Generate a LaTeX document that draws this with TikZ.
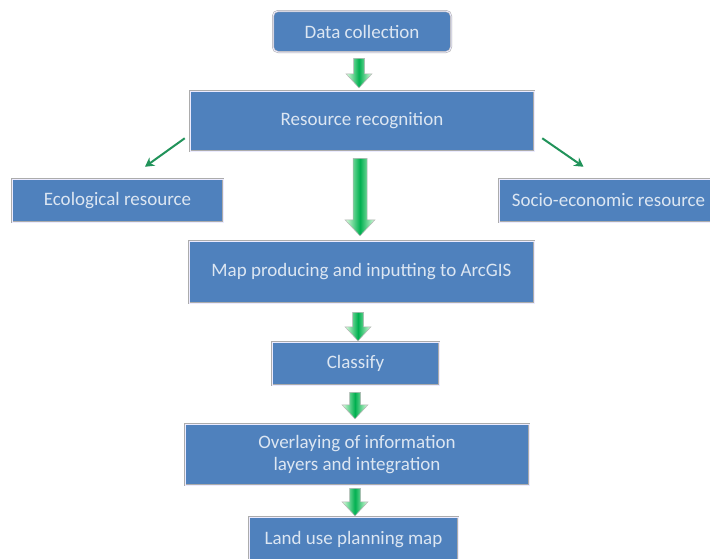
\documentclass[tikz,border=0pt]{standalone}
\usepackage{fontspec}
\setmainfont{Carlito}
\usetikzlibrary{arrows.meta,calc}
\definecolor{boxblue}{HTML}{4F81BD}
\definecolor{boxtext}{HTML}{DCE6F2}
\definecolor{arrgreen}{HTML}{00B050}
\definecolor{diaggreen}{HTML}{21935A}
\tikzset{
  box/.style={draw=gray!65, double=blue!8, double distance=1pt, line width=0.5pt,
    fill=boxblue, text=boxtext, font=\fontsize{19}{22}\selectfont,
    inner sep=0pt, align=center},
  blockarr/.style={draw=gray!60, line width=0.5pt, left color=green!12, right color=green!12, middle color=arrgreen},
  diagarr/.style={draw=diaggreen, line width=2pt, -{Stealth[length=9pt,width=10pt]}}
}
% #1 from node, #2 to node, #3 x (pt), #4 shaft w, #5 head w, #6 head len, #7 start gap, #8 end gap
\newcommand\barrow[8]{%
  \path[blockarr] let \p1=(#1.south), \p2=(#2.north) in
    (#3pt-#4pt/2, \y1-#7pt) -- (#3pt+#4pt/2, \y1-#7pt) -- (#3pt+#4pt/2, \y2+#8pt+#6pt)
    -- (#3pt+#5pt/2, \y2+#8pt+#6pt) -- (#3pt, \y2+#8pt) -- (#3pt-#5pt/2, \y2+#8pt+#6pt)
    -- (#3pt-#4pt/2, \y2+#8pt+#6pt) -- cycle;}
\begin{document}
\begin{tikzpicture}[x=1pt,y=-1pt]
\useasboundingbox (0,0) rectangle (710,558);
\clip (0,0) rectangle (710,558);
\fill[white] (0,0) rectangle (710,558);
\node[box, rounded corners=5pt, minimum width=178pt, minimum height=41pt] (dc) at (362,31.5) {Data collection};
\node[box, minimum width=344pt, minimum height=60pt] (rr) at (362,121) {Resource recognition};
\node[box, minimum width=211pt, minimum height=43pt] (eco) at (117.5,200.5) {Ecological resource};
\node[box, minimum width=215pt, minimum height=43pt] (soc) at (606.5,200.5) {\hspace*{4pt}Socio-economic resource};
\node[box, minimum width=345pt, minimum height=62pt] (map) at (361.5,272) {Map producing and inputting to ArcGIS};
\node[box, minimum width=167pt, minimum height=43pt] (cls) at (355.5,363.5) {Classify};
\node[box, minimum width=344pt, minimum height=61pt] (ovl) at (357,454.5) {Overlaying of information\\ layers and integration};
\node[box, minimum width=209pt, minimum height=46pt] (lu) at (353.5,540) {Land use planning map};
\barrow{dc}{rr}{359}{11}{26}{14}{6}{3}
\barrow{rr}{map}{360}{14}{30}{16}{7}{5}
\barrow{map}{cls}{358}{11}{26}{14}{9}{1}
\barrow{cls}{ovl}{355}{11}{26}{14}{7}{5}
\barrow{ovl}{lu}{355}{11}{26}{14}{3}{1}
\coordinate (l1) at ($(rr.south west)+(-5,-13)$);
\coordinate (l2) at ($(eco.north)+(27.5,-12)$);
\coordinate (r1) at ($(rr.south east)+(8,-13)$);
\coordinate (r2) at ($(soc.north)+(-23,-12)$);
\draw[diagarr] (l1) -- (l2);
\draw[diagarr] (r1) -- (r2);
\end{tikzpicture}
\end{document}
